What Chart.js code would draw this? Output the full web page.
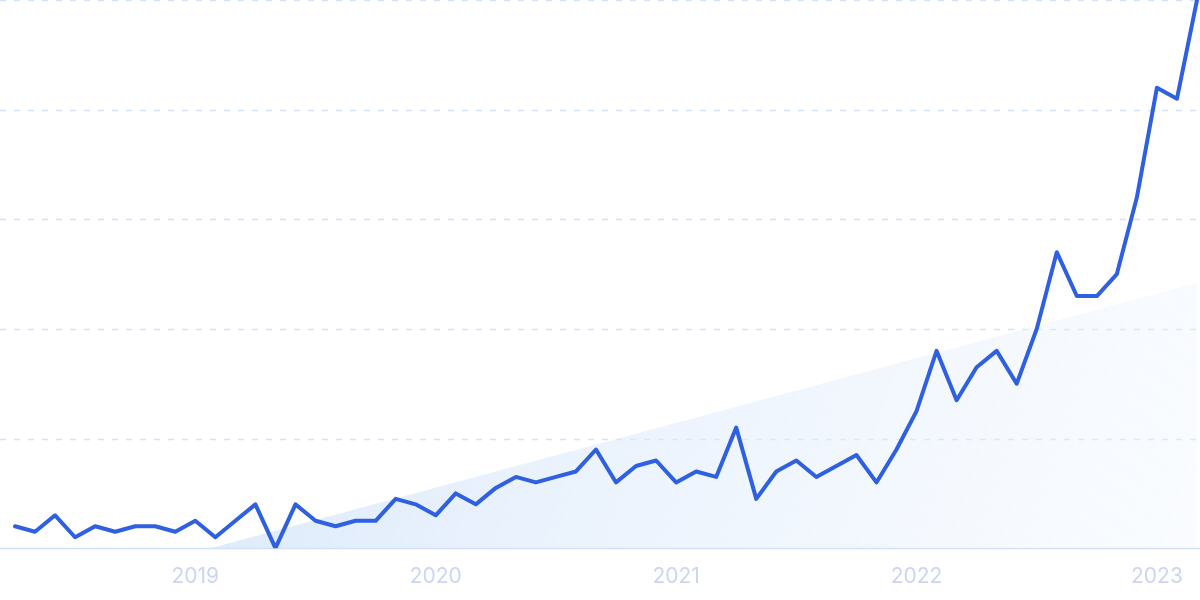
<!DOCTYPE html>
<html>
<head>
<meta charset="utf-8">
<script src="https://cdn.jsdelivr.net/npm/chart.js@4/dist/chart.umd.min.js"></script>
<style>
  html, body { margin: 0; padding: 0; background: #ffffff; }
  #wrap { width: 1200px; height: 600px; }
</style>
</head>
<body>
<div id="wrap"><canvas id="c" width="1200" height="600"></canvas></div>
<script>
const months = [
  '2018-04','2018-05','2018-06','2018-07','2018-08','2018-09','2018-10','2018-11','2018-12',
  '2019-01','2019-02','2019-03','2019-04','2019-05','2019-06','2019-07','2019-08','2019-09','2019-10','2019-11','2019-12',
  '2020-01','2020-02','2020-03','2020-04','2020-05','2020-06','2020-07','2020-08','2020-09','2020-10','2020-11','2020-12',
  '2021-01','2021-02','2021-03','2021-04','2021-05','2021-06','2021-07','2021-08','2021-09','2021-10','2021-11','2021-12',
  '2022-01','2022-02','2022-03','2022-04','2022-05','2022-06','2022-07','2022-08','2022-09','2022-10','2022-11','2022-12',
  '2023-01','2023-02','2023-03'
];
const interest = [
  4,3,6,2,4,3,4,4,3,
  5,2,5,8,0,8,5,4,5,5,9,8,
  6,10,8,11,13,12,13,14,18,12,15,16,
  12,14,13,22,9,14,16,13,15,17,12,18,
  25,36,27,33,36,30,40,54,46,46,50,64,
  84,82,100
];
const trendStart = { x: '2018-04', y: -9.6 };
const trendEnd = { x: '2023-03', y: 48.4 };
const yTicks = [0, 20, 40, 60, 80, 100];

const gridPlugin = {
  id: 'fullGrid',
  beforeDatasetsDraw(chart) {
    const ctx = chart.ctx;
    const y = chart.scales.y;
    ctx.save();
    yTicks.forEach(v => {
      const py = Math.round(y.getPixelForValue(v)) + 0.5;
      ctx.beginPath();
      if (v === 0) {
        ctx.setLineDash([]);
        ctx.strokeStyle = '#d3e0fa';
      } else {
        ctx.setLineDash([6, 8]);
        ctx.strokeStyle = '#d4e3fc';
      }
      ctx.lineWidth = 1.3;
      ctx.moveTo(0, py);
      ctx.lineTo(chart.width, py);
      ctx.stroke();
    });
    ctx.restore();
  }
};

new Chart(document.getElementById('c'), {
  type: 'line',
  data: {
    labels: months,
    datasets: [
      {
        label: 'Interest',
        data: interest,
        borderColor: '#2f60e2',
        borderWidth: 4,
        pointRadius: 0,
        tension: 0,
        fill: false,
        borderJoinStyle: 'round',
        borderCapStyle: 'round',
        order: 1
      },
      {
        label: 'Trend',
        data: [trendStart, trendEnd],
        borderWidth: 0,
        borderColor: 'rgba(0,0,0,0)',
        pointRadius: 0,
        fill: 'origin',
        order: 2,
        backgroundColor: (c) => {
          const a = c.chart.chartArea;
          if (!a) return 'rgba(225,236,252,0.7)';
          const g = c.chart.ctx.createLinearGradient(a.left + 250, a.top + 300, a.right, a.bottom + 60);
          g.addColorStop(0, 'rgba(208,226,250,0.7)');
          g.addColorStop(1, 'rgba(238,245,254,0.3)');
          return g;
        }
      }
    ]
  },
  options: {
    responsive: false,
    animation: false,
    layout: { padding: { left: 15, right: 3, top: 0, bottom: -5 } },
    plugins: { legend: { display: false }, tooltip: { enabled: false } },
    scales: {
      x: {
        type: 'category',
        offset: false,
        grid: { display: false, drawTicks: false },
        border: { display: false },
        afterFit: function(scale) { scale.paddingLeft = 0; scale.paddingRight = 0; },
        ticks: {
          autoSkip: false,
          maxRotation: 0,
          padding: 20,
          color: '#cbd6f4',
          font: { family: 'Inter', size: 21, lineHeight: 0.8 },
          callback: function(v, i) {
            const m = months[i];
            return m.endsWith('-01') ? m.slice(0, 4) : '';
          }
        }
      },
      y: {
        display: false,
        min: 0,
        max: 100,
        ticks: { stepSize: 20 }
      }
    }
  },
  plugins: [gridPlugin]
});
</script>
</body>
</html>
